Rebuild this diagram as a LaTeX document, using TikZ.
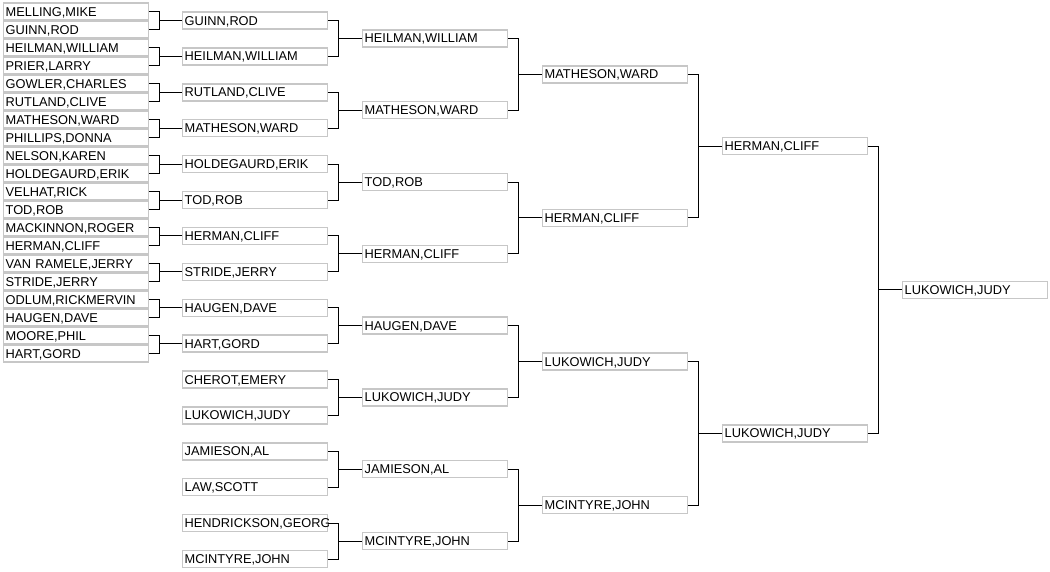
\documentclass[tikz,border=0pt]{standalone}
\usepackage{fontspec}
\setmainfont{Liberation Sans}

\begin{document}
\begin{tikzpicture}[x=1pt,y=-1pt,
    pbox/.style={draw=black!22,line width=1.4pt,fill=white,anchor=west,
      minimum width=145pt,minimum height=17pt,text width=141pt,inner sep=2pt,
      align=left,text height=9pt,text depth=0pt,
      font=\fontsize{12.8}{14}\selectfont},
    link/.style={black,line width=1pt}]

  % page size
  \useasboundingbox (0,0) rectangle (1050,571);

  % first round (20 entries)
  \foreach \n [count=\i from 0] in {{MELLING,MIKE},{GUINN,ROD},{HEILMAN,WILLIAM},
      {PRIER,LARRY},{GOWLER,CHARLES},{RUTLAND,CLIVE},{MATHESON,WARD},
      {PHILLIPS,DONNA},{NELSON,KAREN},{HOLDEGAURD,ERIK},{VELHAT,RICK},{TOD,ROB},
      {MACKINNON,ROGER},{HERMAN,CLIFF},{VAN RAMELE,JERRY},{STRIDE,JERRY},
      {ODLUM,RICKMERVIN},{HAUGEN,DAVE},{MOORE,PHIL},{HART,GORD}}
    \node[pbox] (a\i) at (3,{11.5+18*\i}) {\n};

  % second round (long names are cut at the box edge)
  \foreach \n [count=\j from 0] in {{GUINN,ROD},{HEILMAN,WILLIAM},{RUTLAND,CLIVE},
      {MATHESON,WARD},{HOLDEGAURD,ERIK},{TOD,ROB},{HERMAN,CLIFF},{STRIDE,JERRY},
      {HAUGEN,DAVE},{HART,GORD},{CHEROT,EMERY},{LUKOWICH,JUDY},{JAMIESON,AL},
      {LAW,SCOTT},{HENDRICKSON,GEORG},{MCINTYRE,JOHN}} {
    \begin{scope}
      \clip (170,{20.5+35.9*\j-11}) rectangle (328,{20.5+35.9*\j+11});
      \node[pbox] (b\j) at (182,{20.5+35.9*\j}) {\n};
    \end{scope}
  }

  % third round
  \foreach \n [count=\k from 0] in {{HEILMAN,WILLIAM},{MATHESON,WARD},{TOD,ROB},
      {HERMAN,CLIFF},{HAUGEN,DAVE},{LUKOWICH,JUDY},{JAMIESON,AL},{MCINTYRE,JOHN}}
    \node[pbox] (c\k) at (362,{38.45+71.8*\k}) {\n};

  % quarter finals
  \foreach \n [count=\m from 0] in {{MATHESON,WARD},{HERMAN,CLIFF},
      {LUKOWICH,JUDY},{MCINTYRE,JOHN}}
    \node[pbox] (d\m) at (542,{74.35+143.6*\m}) {\n};

  % semi finals and final
  \node[pbox] (e0) at (722,146.15) {HERMAN,CLIFF};
  \node[pbox] (e1) at (722,433.35) {LUKOWICH,JUDY};
  \node[pbox] (fin) at (902,289.75) {LUKOWICH,JUDY};

  % brackets
  \foreach \j in {0,...,9} {
    \pgfmathtruncatemacro\ua{2*\j}
    \pgfmathtruncatemacro\ub{2*\j+1}
    \draw[link] (a\ua.east) -- ++(10,0) |- (b\j.west);
    \draw[link] (a\ub.east) -- ++(10,0) |- (b\j.west);
  }
  \foreach \k in {0,...,7} {
    \pgfmathtruncatemacro\ua{2*\k}
    \pgfmathtruncatemacro\ub{2*\k+1}
    \draw[link] (b\ua.east) -- ++(10,0) |- (c\k.west);
    \draw[link] (b\ub.east) -- ++(10,0) |- (c\k.west);
  }
  \foreach \m in {0,...,3} {
    \pgfmathtruncatemacro\ua{2*\m}
    \pgfmathtruncatemacro\ub{2*\m+1}
    \draw[link] (c\ua.east) -- ++(10,0) |- (d\m.west);
    \draw[link] (c\ub.east) -- ++(10,0) |- (d\m.west);
  }
  \draw[link] (d0.east) -- ++(10,0) |- (e0.west);
  \draw[link] (d1.east) -- ++(10,0) |- (e0.west);
  \draw[link] (d2.east) -- ++(10,0) |- (e1.west);
  \draw[link] (d3.east) -- ++(10,0) |- (e1.west);
  \draw[link] (e0.east) -- ++(10,0) |- (fin.west);
  \draw[link] (e1.east) -- ++(10,0) |- (fin.west);

\end{tikzpicture}
\end{document}
